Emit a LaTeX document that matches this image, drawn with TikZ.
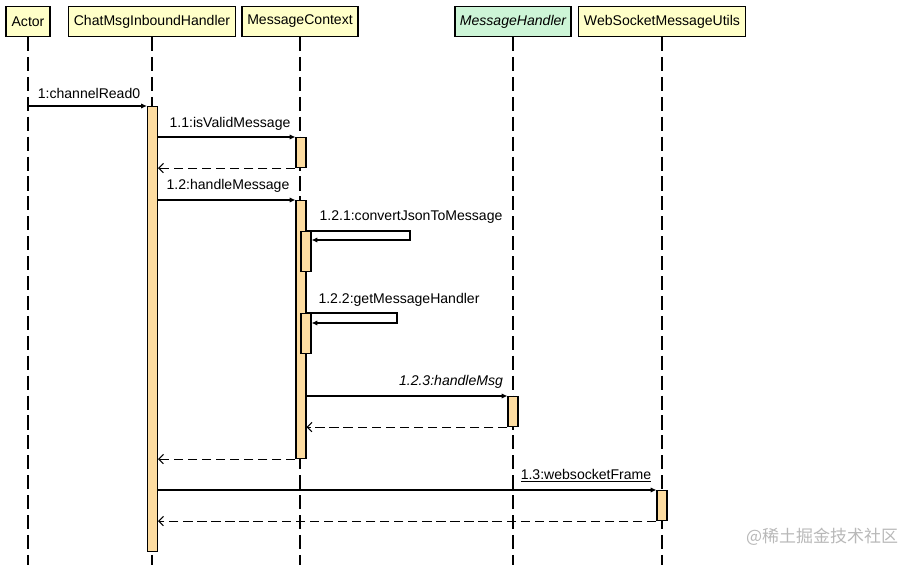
\documentclass[tikz,border=0pt]{standalone}
\usepackage{fontspec}
\setmainfont{Liberation Sans}
\newfontfamily\cjkfont{Noto Sans CJK SC}
\usetikzlibrary{arrows.meta,positioning}
\definecolor{headyellow}{RGB}{255,255,200}
\definecolor{headgreen}{RGB}{205,245,215}
\definecolor{actorange}{RGB}{253,220,160}
\newcommand{\pxl}{0.03cm}
\tikzset{font=\fontsize{12}{14}\selectfont}
\tikzset{every node/.append style={transform shape=false}}
\tikzset{
  head/.style={draw, line width=0.9pt, fill=headyellow, anchor=north,
    minimum height=30*\pxl, inner xsep=0.1cm},
  lifeline/.style={line width=0.9pt, dash pattern=on 12pt off 5pt},
  actbar/.style={draw, line width=0.9pt, fill=actorange, anchor=north,
    minimum width=10*\pxl, inner sep=0pt},
  call/.style={line width=0.9pt, -{Latex[length=5pt,width=4.5pt]}},
  reply/.style={line width=0.9pt, dash pattern=on 8pt off 4pt,
    -{Straight Barb[length=4pt,width=8pt]}},
  msg/.style={inner sep=1pt}
}

\begin{document}
\begin{tikzpicture}[x=0.03cm, y=-0.03cm]
  \useasboundingbox (0,0) rectangle (920,565);

  \node[head, minimum width=44*\pxl] (actor) at (28,6) {Actor};
  \node[head, minimum width=167*\pxl] (inbound) at (152,6) {ChatMsgInboundHandler};
  \node[head, minimum width=116*\pxl] (context) at (300,6) {MessageContext};
  \node[head, minimum width=116*\pxl, fill=headgreen] (handler) at (513,6)
    {\itshape MessageHandler};
  \node[head, minimum width=167*\pxl] (utils) at (662,6) {WebSocketMessageUtils};

  \draw[lifeline] (actor.south) -- (actor.south |- 0,565);
  \draw[lifeline] (inbound.south) -- (inbound.south |- 0,565);
  \draw[lifeline] (context.south) -- (context.south |- 0,565);
  \draw[lifeline] (handler.south) -- (handler.south |- 0,565);
  \draw[lifeline] (utils.south) -- (utils.south |- 0,565);

  \node[actbar, minimum height=445*\pxl] (actInbound) at (152.5,106) {};
  \node[actbar, minimum height=30*\pxl] (actValid) at (301,137) {};
  \node[actbar, minimum height=258*\pxl] (actContext) at (301,200) {};
  \node[actbar, minimum height=40*\pxl] (actConvert) at (306,231) {};
  \node[actbar, minimum height=40*\pxl] (actGet) at (306,313) {};
  \node[actbar, minimum height=30*\pxl] (actHandler) at (513,396) {};
  \node[actbar, minimum height=30*\pxl] (actUtils) at (662,490) {};

  \coordinate (convertEnd) at (410,231);
  \coordinate (getEnd) at (397,313);

  \draw[call] (actor.south |- actInbound.north) -- (actInbound.north west);
  \draw (89,93) node[msg] {1:channelRead0};

  \draw[call] (actInbound.east |- actValid.north) -- (actValid.north west);
  \draw (230,124) node[msg] {1.1:isValidMessage};
  \draw[reply] (actValid.south west) -- (actValid.south west -| actInbound.east);

  \draw[call] (actInbound.east |- actContext.north) -- (actContext.north west);
  \draw (228,186) node[msg] {1.2:handleMessage};

  \draw[call] (actConvert.north -| actContext.east) -- (convertEnd)
    |- (actConvert.east |- 0,240);
  \draw (411,217) node[msg] {1.2.1:convertJsonToMessage};

  \draw[call] (actGet.north -| actContext.east) -- (getEnd)
    |- (actGet.east |- 0,323);
  \draw (399,300) node[msg] {1.2.2:getMessageHandler};

  \draw[call] (actContext.east |- actHandler.north) -- (actHandler.north west);
  \draw (451,382) node[msg] {\itshape 1.2.3:handleMsg};
  \draw[reply] (actHandler.south west) -- (actHandler.south west -| actContext.east);

  \draw[reply] (actContext.south west) -- (actContext.south west -| actInbound.east);

  \draw[call] (actInbound.east |- actUtils.north) -- (actUtils.north west);
  \draw (586,476) node[msg] {\underline{1.3:websocketFrame}};
  \draw[reply] (actUtils.south west) -- (actUtils.south west -| actInbound.east);

  \draw (822,537) node[text=black!28, font=\cjkfont\fontsize{14.5}{16}\selectfont]
    {@稀土掘金技术社区};

\end{tikzpicture}
\end{document}
